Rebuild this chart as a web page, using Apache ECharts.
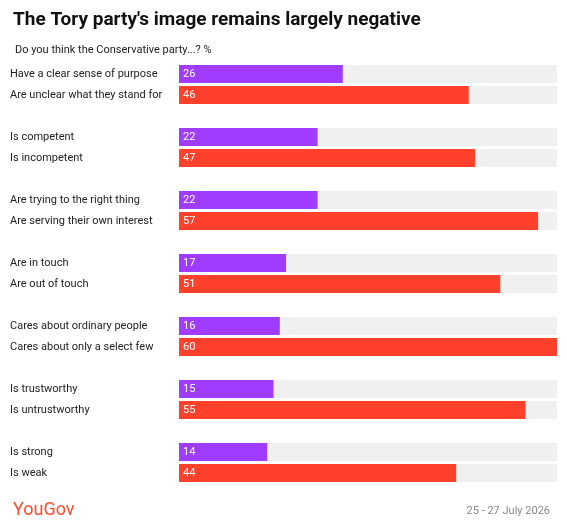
<!DOCTYPE html>
<html><head><meta charset="utf-8">
<script src="https://cdn.jsdelivr.net/npm/echarts@6/dist/echarts.min.js"></script>
<style>body{margin:0;background:#fff}#c{width:567px;height:528px}</style>
</head><body><div id="c"></div>
<script>
// positive / negative statement pairs
var posLabels=['Have a clear sense of purpose','Is competent','Are trying to the right thing','Are in touch','Cares about ordinary people','Is trustworthy','Is strong'];
var posValues=[26,22,22,17,16,15,14];
var negLabels=['Are unclear what they stand for','Is incompetent','Are serving their own interest','Are out of touch','Cares about only a select few','Is untrustworthy','Is weak'];
var negValues=[46,47,57,51,60,55,44];
var maxVal=60;

var cats=[],vals=[],bg=[];
for(var i=0;i<posLabels.length;i++){
  if(i>0){cats.push('gap'+i);vals.push('-');bg.push('-');}
  cats.push(posLabels[i]);vals.push({value:posValues[i],itemStyle:{color:'#9f3cff'}});bg.push(maxVal);
  cats.push(negLabels[i]);vals.push({value:negValues[i],itemStyle:{color:'#ff412c'}});bg.push(maxVal);
}

var chart=echarts.init(document.getElementById('c'));
chart.setOption({
  animation:false,
  textStyle:{fontFamily:'Roboto'},
  title:[
    {text:"The Tory party's image remains largely negative",left:8,top:6,textStyle:{fontSize:19,fontWeight:'bold',color:'#111'}},
    {text:'Do you think the Conservative party...? %',left:10,top:40,textStyle:{fontSize:11,fontWeight:'normal',color:'#222'}},
    {text:'YouGov',left:8,top:496,textStyle:{fontSize:18,fontWeight:'normal',color:'#ff4a2c'}},
    {text:'25 - 27 July 2026',right:12,top:501,textStyle:{fontSize:11,fontWeight:'normal',color:'#888'}}
  ],
  grid:{left:179,right:10,top:63.5,bottom:44.5,containLabel:false},
  xAxis:{type:'value',min:0,max:maxVal,show:false},
  yAxis:{type:'category',data:cats,inverse:true,axisLine:{show:false},axisTick:{show:false},
    axisLabel:{margin:169,align:'left',fontSize:11,color:'#222',formatter:function(v){return v.indexOf('gap')===0?'':v;}}},
  series:[
    {type:'bar',data:bg,barWidth:18,itemStyle:{color:'#f0f0f0'},silent:true},
    {type:'bar',data:vals,barWidth:18,barGap:'-100%',
      label:{show:true,position:'insideLeft',color:'#fff',fontSize:11,distance:4}}
  ]
});
</script></body></html>
